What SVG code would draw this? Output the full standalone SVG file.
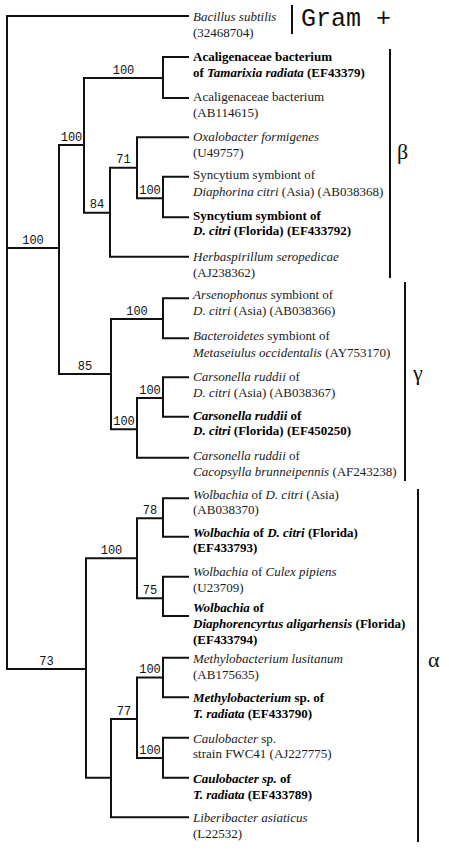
<svg xmlns="http://www.w3.org/2000/svg" width="449" height="850" viewBox="0 0 449 850">
<style>
.bg{fill:#fff}
.br path{fill:none;stroke:#111;stroke-width:2;stroke-linecap:square}
.bk{stroke:#111;stroke-width:2}
.t{font-family:"Liberation Serif","Times New Roman",serif;font-size:13px;fill:#1a1a1a}
.i{font-style:italic}
.b{font-weight:bold;fill:#000}
.lbl{font-family:"Liberation Mono","Courier New",monospace;font-size:12px;fill:#111;text-anchor:middle}
.gram{font-family:"Liberation Mono","Courier New",monospace;font-size:25px;fill:#111}
.gk{font-family:"Liberation Serif","Times New Roman",serif;font-size:22px;fill:#111}
</style>
<rect class="bg" x="0" y="0" width="449" height="850"/>
<g id="connectors" class="br">
<path d="M7,16 V669 M7,16 H188 M7,248 H59 M7,669 H86"/>
<path d="M59,145 V374 M59,145 H84 M59,374 H111"/>
<path d="M84,78 V212.7 M84,78 H163 M84,212.7 H110"/>
<path d="M163,57 V98 M163,57 H188 M163,98 H188"/>
<path d="M110,167.7 V256.7 M110,167.7 H137 M110,256.7 H188"/>
<path d="M137,137.3 V198.3 M137,137.3 H188 M137,198.3 H163"/>
<path d="M163,176.7 V217.3 M163,176.7 H188 M163,217.3 H188"/>
<path d="M111,319 V429.3 M111,319 H163 M111,429.3 H137"/>
<path d="M163,298.3 V338.3 M163,298.3 H188 M163,338.3 H188"/>
<path d="M137,398 V457.7 M137,398 H163 M137,457.7 H188"/>
<path d="M163,377.3 V416.7 M163,377.3 H188 M163,416.7 H188"/>
<path d="M86,558.3 V777.7 M86,558.3 H137 M86,777.7 H111"/>
<path d="M137,518.3 V598.3 M137,518.3 H163 M137,598.3 H163"/>
<path d="M163,498.3 V536.7 M163,498.3 H188 M163,536.7 H188"/>
<path d="M163,576.7 V616 M163,576.7 H188 M163,616 H188"/>
<path d="M111,719 V817.3 M111,719 H137 M111,817.3 H188"/>
<path d="M137,677.5 V758 M137,677.5 H163 M137,758 H163"/>
<path d="M163,657.7 V697.3 M163,657.7 H188 M163,697.3 H188"/>
<path d="M163,737.7 V777.7 M163,737.7 H188 M163,777.7 H188"/>
</g>
<g id="support">
<text class="lbl" x="33" y="243.5">100</text>
<text class="lbl" x="46.5" y="664.5">73</text>
<text class="lbl" x="71.5" y="140.5">100</text>
<text class="lbl" x="123.5" y="73.5">100</text>
<text class="lbl" x="97" y="208">84</text>
<text class="lbl" x="123.5" y="163">71</text>
<text class="lbl" x="150" y="194">100</text>
<text class="lbl" x="85" y="369.5">85</text>
<text class="lbl" x="137" y="314.5">100</text>
<text class="lbl" x="124" y="425">100</text>
<text class="lbl" x="150" y="393.5">100</text>
<text class="lbl" x="111.5" y="554">100</text>
<text class="lbl" x="150" y="514">78</text>
<text class="lbl" x="150" y="594">75</text>
<text class="lbl" x="124" y="714.5">77</text>
<text class="lbl" x="150" y="673">100</text>
<text class="lbl" x="150" y="753.5">100</text>
</g>
<g id="leaf-bacillus" class="t"><text x="193" y="21"><tspan class="i">Bacillus subtilis</tspan><tspan x="193" dy="16">(32468704)</tspan></text></g>
<g id="leaf-acal-tr" class="t b"><text x="193" y="61">Acaligenaceae bacterium<tspan x="193" dy="16">of </tspan><tspan class="i">Tamarixia radiata</tspan> (EF43379)</text></g>
<g id="leaf-acal" class="t"><text x="193" y="101">Acaligenaceae bacterium<tspan x="193" dy="16">(AB114615)</tspan></text></g>
<g id="leaf-oxalo" class="t"><text x="193" y="141"><tspan class="i">Oxalobacter formigenes</tspan><tspan x="193" dy="16">(U49757)</tspan></text></g>
<g id="leaf-sync-asia" class="t"><text x="193" y="178.5">Syncytium symbiont of<tspan x="193" dy="17" class="i">Diaphorina citri</tspan> (Asia) (AB038368)</text></g>
<g id="leaf-sync-fl" class="t b"><text x="193" y="219.5">Syncytium symbiont of<tspan x="193" dy="15.5" class="i">D. citri</tspan> (Florida) (EF433792)</text></g>
<g id="leaf-herba" class="t"><text x="193" y="261"><tspan class="i">Herbaspirillum seropedicae</tspan><tspan x="193" dy="15.5">(AJ238362)</tspan></text></g>
<g id="leaf-arseno" class="t"><text x="193" y="298.5"><tspan class="i">Arsenophonus</tspan> symbiont of<tspan x="193" dy="16.5" class="i">D. citri</tspan> (Asia) (AB038366)</text></g>
<g id="leaf-bactero" class="t"><text x="193" y="340"><tspan class="i">Bacteroidetes</tspan> symbiont of<tspan x="193" dy="16.5" class="i">Metaseiulus occidentalis</tspan> (AY753170)</text></g>
<g id="leaf-cars-asia" class="t"><text x="193" y="381"><tspan class="i">Carsonella ruddii</tspan> of<tspan x="193" dy="16" class="i">D. citri</tspan> (Asia) (AB038367)</text></g>
<g id="leaf-cars-fl" class="t b"><text x="193" y="419.5"><tspan class="i">Carsonella ruddii</tspan> of<tspan x="193" dy="15.5" class="i">D. citri</tspan> (Florida) (EF450250)</text></g>
<g id="leaf-cars-caco" class="t"><text x="193" y="459.5"><tspan class="i">Carsonella ruddii</tspan> of<tspan x="193" dy="16.5" class="i">Cacopsylla brunneipennis</tspan> (AF243238)</text></g>
<g id="leaf-wol-asia" class="t"><text x="193" y="498.5"><tspan class="i">Wolbachia</tspan> of <tspan class="i">D. citri</tspan> (Asia)<tspan x="193" dy="15.5">(AB038370)</tspan></text></g>
<g id="leaf-wol-fl" class="t b"><text x="193" y="536.5"><tspan class="i">Wolbachia</tspan> of <tspan class="i">D. citri</tspan> (Florida)<tspan x="193" dy="15.5">(EF433793)</tspan></text></g>
<g id="leaf-wol-culex" class="t"><text x="193" y="576"><tspan class="i">Wolbachia</tspan> of <tspan class="i">Culex pipiens</tspan><tspan x="193" dy="16">(U23709)</tspan></text></g>
<g id="leaf-wol-diaph" class="t b"><text x="193" y="611.5"><tspan class="i">Wolbachia</tspan> of<tspan x="193" dy="16" class="i">Diaphorencyrtus aligarhensis</tspan> (Florida)<tspan x="193" dy="16">(EF433794)</tspan></text></g>
<g id="leaf-methylo-lus" class="t"><text x="193" y="662.5"><tspan class="i">Methylobacterium lusitanum</tspan><tspan x="193" dy="16.5">(AB175635)</tspan></text></g>
<g id="leaf-methylo-tr" class="t b"><text x="193" y="701.7"><tspan class="i">Methylobacterium</tspan> sp. of<tspan x="193" dy="16.5" class="i">T. radiata</tspan> (EF433790)</text></g>
<g id="leaf-caulo" class="t"><text x="193" y="742.5"><tspan class="i">Caulobacter</tspan> sp.<tspan x="193" dy="15.5">strain FWC41 (AJ227775)</tspan></text></g>
<g id="leaf-caulo-tr" class="t b"><text x="193" y="782.5"><tspan class="i">Caulobacter sp.</tspan> of<tspan x="193" dy="16" class="i">T. radiata</tspan> (EF433789)</text></g>
<g id="leaf-liberi" class="t"><text x="193" y="821.7"><tspan class="i">Liberibacter asiaticus</tspan><tspan x="193" dy="16.5">(L22532)</tspan></text></g>
<g id="group-gram">
<line class="bk" x1="292" y1="5" x2="292" y2="34"/>
<text class="gram" x="301" y="26">Gram +</text>
</g>
<g id="group-beta">
<line class="bk" x1="390" y1="49" x2="390" y2="278"/>
<text class="gk" x="397" y="159">β</text>
</g>
<g id="group-gamma">
<line class="bk" x1="405" y1="282" x2="405" y2="481"/>
<text class="gk" x="413" y="380">γ</text>
</g>
<g id="group-alpha">
<line class="bk" x1="418" y1="489" x2="418" y2="842"/>
<text class="gk" x="428" y="666.5">α</text>
</g>
</svg>
